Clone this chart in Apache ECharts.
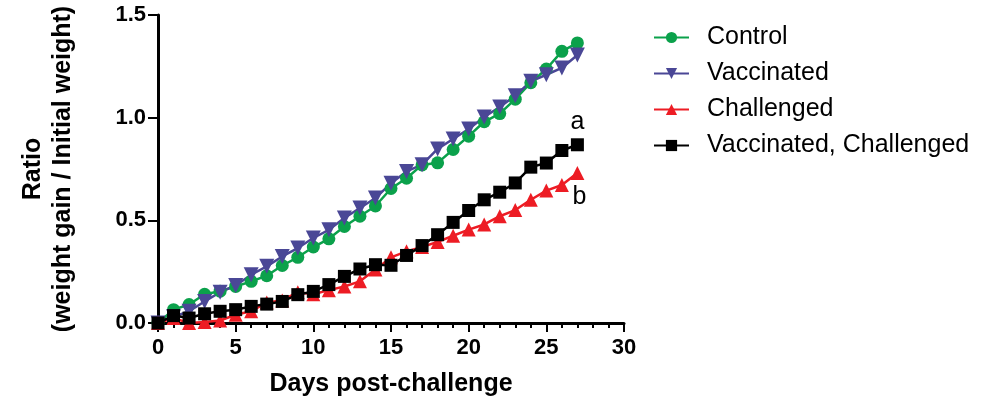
<!DOCTYPE html>
<html>
<head>
<meta charset="utf-8">
<script src="https://cdn.jsdelivr.net/npm/echarts@6/dist/echarts.min.js"></script>
<style>
html,body{margin:0;padding:0;background:#fff;}
#chart{width:986px;height:402px;}
</style>
</head>
<body>
<div id="chart"></div>
<script>
const days = [0,1,2,3,4,5,6,7,8,9,10,11,12,13,14,15,16,17,18,19,20,21,22,23,24,25,26,27];
const control = [0, 0.065, 0.09, 0.14, 0.155, 0.178, 0.203, 0.23, 0.28, 0.32, 0.37, 0.41, 0.47, 0.52, 0.57, 0.655, 0.705, 0.77, 0.78, 0.845, 0.91, 0.98, 1.02, 1.09, 1.17, 1.237, 1.323, 1.364];
const vaccinated = [0, 0.03, 0.057, 0.105, 0.15, 0.183, 0.235, 0.276, 0.324, 0.365, 0.414, 0.454, 0.511, 0.56, 0.609, 0.68, 0.738, 0.771, 0.848, 0.896, 0.945, 1.003, 1.052, 1.107, 1.177, 1.209, 1.242, 1.305];
const challenged = [0, 0.024, 0.0, 0.005, 0.012, 0.04, 0.057, 0.10, 0.11, 0.15, 0.14, 0.16, 0.178, 0.203, 0.26, 0.32, 0.349, 0.37, 0.395, 0.425, 0.455, 0.48, 0.52, 0.55, 0.60, 0.645, 0.672, 0.73];
const vaccChallenged = [0, 0.036, 0.024, 0.045, 0.057, 0.065, 0.081, 0.092, 0.105, 0.138, 0.154, 0.187, 0.227, 0.263, 0.284, 0.281, 0.329, 0.377, 0.43, 0.49, 0.548, 0.60, 0.637, 0.682, 0.759, 0.779, 0.84, 0.868];
const seriesNames = ['Control', 'Vaccinated', 'Challenged', 'Vaccinated, Challenged'];
const annotations = ['a', 'b'];

const pair = arr => days.map((d, i) => [d, arr[i]]);
const FONT = 'Liberation Sans, Arial, sans-serif';

const chart = echarts.init(document.getElementById('chart'), null, {renderer: 'canvas'});
chart.setOption({
  backgroundColor: '#ffffff',
  animation: false,
  grid: {left: 158, right: 362, top: 15, bottom: 79, containLabel: false},
  legend: {
    orient: 'vertical',
    left: 653,
    top: 25,
    padding: 0,
    itemWidth: 35,
    itemHeight: 14,
    itemGap: 11,
    textStyle: {fontFamily: FONT, fontSize: 25, color: '#000', padding: [0, 0, 0, 13], lineHeight: 25},
    data: seriesNames
  },
  xAxis: {
    type: 'value', min: 0, max: 30, interval: 5,
    name: 'Days post-challenge', nameLocation: 'middle', nameGap: 49,
    nameTextStyle: {fontFamily: FONT, fontSize: 25, fontWeight: 'bold', color: '#000'},
    axisLine: {show: true, lineStyle: {color: '#000', width: 3}},
    axisTick: {show: true, length: 9, lineStyle: {color: '#000', width: 2}},
    minorTick: {show: true, splitNumber: 5, length: 5, lineStyle: {color: '#000', width: 2}},
    splitLine: {show: false},
    axisLabel: {fontFamily: FONT, fontSize: 22, fontWeight: 'bold', color: '#000', margin: 14}
  },
  yAxis: {
    type: 'value', min: 0, max: 1.5, interval: 0.5,
    name: 'Ratio\n(weight gain / Initial weight)', nameLocation: 'middle', nameGap: 80, nameRotate: 90,
    nameTextStyle: {fontFamily: FONT, fontSize: 25, fontWeight: 'bold', color: '#000', lineHeight: 30, align: 'center'},
    axisLine: {show: true, lineStyle: {color: '#000', width: 3}},
    axisTick: {show: true, length: 10, lineStyle: {color: '#000', width: 2}},
    splitLine: {show: false},
    axisLabel: {fontFamily: FONT, fontSize: 22, fontWeight: 'bold', color: '#000', margin: 12,
      formatter: v => v.toFixed(1)}
  },
  series: [
    {name: seriesNames[0], type: 'line', data: pair(control), symbol: 'circle', symbolSize: 13,
      itemStyle: {color: '#0BA14B'}, lineStyle: {color: '#0BA14B', width: 2.5}},
    {name: seriesNames[1], type: 'line', data: pair(vaccinated), symbol: 'triangle', symbolRotate: 180, symbolSize: 15,
      itemStyle: {color: '#4A4796'}, lineStyle: {color: '#4A4796', width: 2.5}},
    {name: seriesNames[2], type: 'line', data: pair(challenged), symbol: 'triangle', symbolSize: 14,
      itemStyle: {color: '#ED1C24'}, lineStyle: {color: '#ED1C24', width: 2.5},
      markPoint: {symbol: 'circle', symbolSize: 1, itemStyle: {color: 'rgba(0,0,0,0)'},
        label: {show: true, formatter: annotations[1], fontFamily: FONT, fontSize: 25, color: '#000', offset: [2, 24]},
        data: [{coord: [days[days.length-1], challenged[challenged.length-1]]}]}},
    {name: seriesNames[3], type: 'line', data: pair(vaccChallenged), symbol: 'rect', symbolSize: 13,
      itemStyle: {color: '#000'}, lineStyle: {color: '#000', width: 2.5},
      markPoint: {symbol: 'circle', symbolSize: 1, itemStyle: {color: 'rgba(0,0,0,0)'},
        label: {show: true, formatter: annotations[0], fontFamily: FONT, fontSize: 25, color: '#000', offset: [0, -23]},
        data: [{coord: [days[days.length-1], vaccChallenged[vaccChallenged.length-1]]}]}}
  ]
});
</script>
</body>
</html>
